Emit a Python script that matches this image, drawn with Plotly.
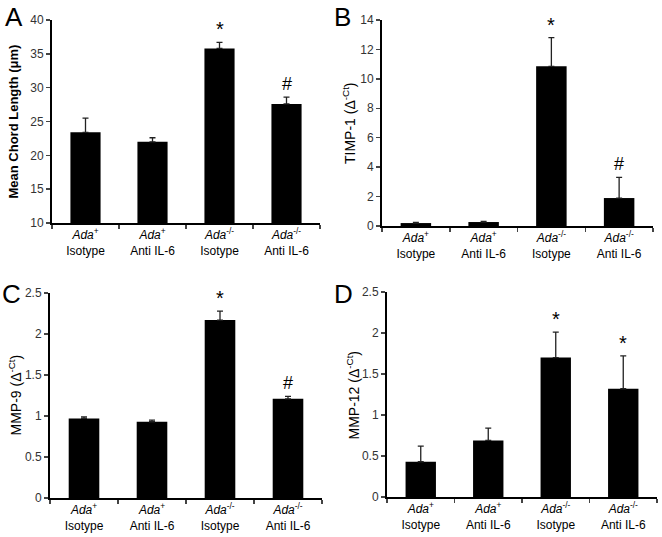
import plotly.graph_objects as go

W, H = 662, 537

categories = ["Ada+ Isotype", "Ada+ Anti IL-6", "Ada-/- Isotype", "Ada-/- Anti IL-6"]
tick_labels = [
    "<i>Ada</i><sup>+</sup><br>Isotype",
    "<i>Ada</i><sup>+</sup><br>Anti IL-6",
    "<i>Ada</i><sup>-/-</sup><br>Isotype",
    "<i>Ada</i><sup>-/-</sup><br>Anti IL-6",
]

chord_values = [23.4, 22.0, 35.8, 27.6]
chord_errors = [2.1, 0.6, 0.9, 1.0]
chord_marks = ["", "", "*", "#"]

timp1_values = [0.2, 0.27, 10.85, 1.9]
timp1_errors = [0.05, 0.05, 1.95, 1.4]
timp1_marks = ["", "", "*", "#"]

mmp9_values = [0.97, 0.93, 2.17, 1.21]
mmp9_errors = [0.02, 0.02, 0.11, 0.03]
mmp9_marks = ["", "", "*", "#"]

mmp12_values = [0.43, 0.69, 1.70, 1.32]
mmp12_errors = [0.19, 0.15, 0.31, 0.40]
mmp12_marks = ["", "", "*", "*"]

panels = [
    dict(letter="A", vals=chord_values, errs=chord_errors, marks=chord_marks,
         title="<b>Mean Chord Length (μm)</b>", yrange=[10, 40], dtick=5,
         xpx=(52, 320), ypx=(20, 223), title_x=13, letter_pos=(3, 0)),
    dict(letter="B", vals=timp1_values, errs=timp1_errors, marks=timp1_marks,
         title="TIMP-1 (Δ<sup>-Ct</sup>)", yrange=[0, 14], dtick=2,
         xpx=(382, 653), ypx=(20, 226), title_x=349, letter_pos=(332, 0)),
    dict(letter="C", vals=mmp9_values, errs=mmp9_errors, marks=mmp9_marks,
         title="MMP-9 (Δ<sup>-Ct</sup>)", yrange=[0, 2.5], dtick=0.5,
         xpx=(50, 322), ypx=(293, 498), title_x=15, letter_pos=(0, 277)),
    dict(letter="D", vals=mmp12_values, errs=mmp12_errors, marks=mmp12_marks,
         title="MMP-12 (Δ<sup>-Ct</sup>)", yrange=[0, 2.5], dtick=0.5,
         xpx=(387, 657), ypx=(292, 497), title_x=353, letter_pos=(332, 277)),
]

FONT = "Liberation Sans, Arial, sans-serif"

fig = go.Figure()
annotations = []
layout_axes = {}

for i, p in enumerate(panels):
    n = "" if i == 0 else str(i + 1)
    xa, ya = "x" + n, "y" + n
    fig.add_trace(go.Bar(
        x=categories, y=p["vals"], xaxis=xa, yaxis=ya,
        marker=dict(color="black", line=dict(width=0)),
        width=0.45,
        error_y=dict(type="data", symmetric=False, array=p["errs"],
                     arrayminus=[0] * 4, color="#222222", thickness=1.3, width=3),
        showlegend=False,
    ))
    x0, x1 = p["xpx"]
    yt, yb = p["ypx"]
    layout_axes["xaxis" + n] = dict(
        domain=[x0 / W, x1 / W], anchor=ya,
        type="category", categoryorder="array", categoryarray=categories,
        tickmode="array", tickvals=categories, ticktext=tick_labels,
        tickson="boundaries", ticks="outside", ticklen=4, tickwidth=1.5,
        showline=True, linecolor="black", linewidth=2, showgrid=False,
        tickfont=dict(family=FONT, size=12, color="black"),
        range=[-0.5, 3.5], fixedrange=True, automargin=False,
    )
    layout_axes["yaxis" + n] = dict(
        domain=[1 - yb / H, 1 - yt / H], anchor=xa,
        range=p["yrange"], dtick=p["dtick"], tick0=0,
        ticks="outside", ticklen=4, tickwidth=1.5,
        showline=True, linecolor="black", linewidth=2, showgrid=False,
        zeroline=False, automargin=False,
        tickfont=dict(family=FONT, size=12, color="#333333"),
    )
    annotations.append(dict(
        text=p["title"], xref="paper", yref="paper",
        x=p["title_x"] / W, y=1 - (yt + yb) / 2 / H,
        textangle=-90, showarrow=False, xanchor="center", yanchor="middle",
        font=dict(family=FONT, size=14 if i else 13, color="black"),
    ))
    lx, ly = p["letter_pos"]
    annotations.append(dict(
        text=p["letter"], xref="paper", yref="paper",
        x=lx / W, y=1 - ly / H, xanchor="left", yanchor="top",
        showarrow=False, font=dict(family=FONT, size=26, color="black"),
    ))
    for c, v, e, m in zip(categories, p["vals"], p["errs"], p["marks"]):
        if m:
            annotations.append(dict(
                text=m, x=c, y=v + e, xref=xa, yref=ya,
                xanchor="center", yanchor="bottom", yshift=1 if m == "#" else 0,
                showarrow=False,
                font=dict(family=FONT, size=18 if m == "#" else 20, color="black"),
            ))

fig.update_layout(
    width=W, height=H, margin=dict(l=0, r=0, t=0, b=0, autoexpand=False),
    plot_bgcolor="white", paper_bgcolor="white",
    annotations=annotations,
    **layout_axes,
)

fig.write_html("out.html", config={"displayModeBar": False, "staticPlot": True})

with open("out.html", "r", encoding="utf-8") as f:
    html = f.read()
html = html.replace("<head>", "<head><style>html,body{margin:0;padding:0;overflow:hidden;}</style>", 1)
with open("out.html", "w", encoding="utf-8") as f:
    f.write(html)
